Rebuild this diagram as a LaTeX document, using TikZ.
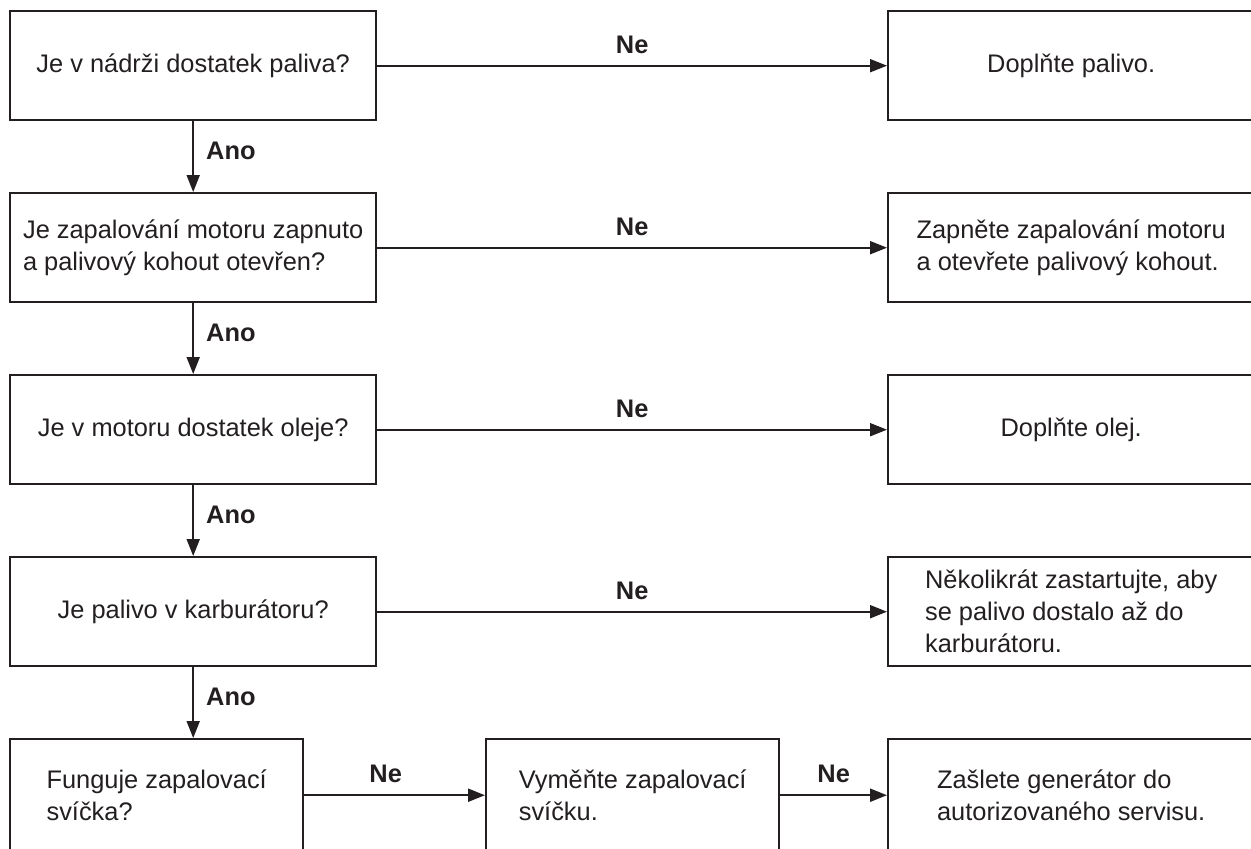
\documentclass[tikz,border=0pt]{standalone}
\usepackage{fontspec}
\setmainfont{Liberation Sans}
\usepackage{tikz}
\usetikzlibrary{arrows.meta,positioning}
\definecolor{ink}{RGB}{35,31,32}

\begin{document}
\begin{tikzpicture}[
    x=0.5pt, y=-0.5pt,
    node distance=35.3pt and 254.8pt,
    box/.style={rectangle, draw=ink, line width=1.2pt, align=left, minimum width=183pt, minimum height=54.5pt, inner sep=0pt, text=ink, font=\fontsize{12.7}{16}\selectfont},
    arrow/.style={-{Triangle[length=8.5pt,width=6.5pt]}, draw=ink, line width=1pt},
    lbl/.style={inner sep=0pt, text=ink, font=\fontsize{12.7}{16}\selectfont\bfseries}
]
    \path[use as bounding box, clip] (0,0) rectangle (1251,848);

    % questions on the left, remedies on the right
    \node[box, anchor=north west] (fuel) at (9,10) {Je v nádrži dostatek paliva?};
    \node[box, right=of fuel] (addfuel) {Doplňte palivo.};
    \node[box, below=of fuel] (ign) {Je zapalování motoru zapnuto\\a palivový kohout otevřen?};
    \node[box, right=of ign] (ignon) {Zapněte zapalování motoru\\a otevřete palivový kohout.};
    \node[box, below=of ign] (oil) {Je v motoru dostatek oleje?};
    \node[box, right=of oil] (addoil) {Doplňte olej.};
    \node[box, below=of oil] (carb) {Je palivo v karburátoru?};
    \node[box, right=of carb] (crank) {Několikrát zastartujte, aby\\se palivo dostalo až do\\karburátoru.};

    % last row runs left to right
    \node[box, minimum width=146.5pt, minimum height=56pt, below=of carb.south west, anchor=north west] (spark) {Funguje zapalovací\\svíčka?};
    \node[box, minimum width=146.5pt, minimum height=56pt, right=90.3pt of spark] (plug) {Vyměňte zapalovací\\svíčku.};
    \node[box, minimum height=56pt, right=53.3pt of plug] (service) {Zašlete generátor do\\autorizovaného servisu.};

    \draw[arrow] (fuel) -- node[lbl, above=5.5pt] {Ne} (addfuel);
    \draw[arrow] (ign) -- node[lbl, above=5.5pt] {Ne} (ignon);
    \draw[arrow] (oil) -- node[lbl, above=5.5pt] {Ne} (addoil);
    \draw[arrow] (carb) -- node[lbl, above=5.5pt] {Ne} (crank);
    \draw[arrow] (spark) -- node[lbl, pos=0.45, above=5.5pt] {Ne} (plug);
    \draw[arrow] (plug) -- node[lbl, above=5.5pt] {Ne} (service);

    \draw[arrow] (fuel) -- node[lbl, pos=0.42, right=6pt] {Ano} (ign);
    \draw[arrow] (ign) -- node[lbl, pos=0.42, right=6pt] {Ano} (oil);
    \draw[arrow] (oil) -- node[lbl, pos=0.42, right=6pt] {Ano} (carb);
    \draw[arrow] (carb.south) -- node[lbl, pos=0.42, right=6pt] {Ano} (carb.south |- spark.north);
\end{tikzpicture}
\end{document}
